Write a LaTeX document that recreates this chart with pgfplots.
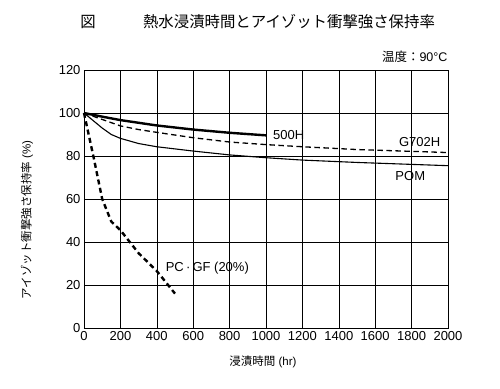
\documentclass[border=0pt]{standalone}
\usepackage{fontspec}
\setmainfont{Liberation Sans}
\newfontfamily\cjk{Noto Sans CJK JP}
\usepackage{pgfplots}
\pgfplotsset{compat=1.18}
\begin{document}
\begin{tikzpicture}
\useasboundingbox (-84pt,-60pt) rectangle (416pt,328pt);
\begin{axis}[
  at={(0pt,0pt)}, anchor=south west,
  scale only axis, width=364pt, height=258pt,
  xmin=0, xmax=2000, ymin=0, ymax=120,
  xtick={0,200,...,2000}, ytick={0,20,...,120},
  grid=major, grid style={black, line width=0.6pt},
  axis line style={line width=0.8pt},
  tick style={draw=none},
  ticklabel style={font=\fontsize{13}{15}\selectfont},
  /pgf/number format/assume math mode=true,
  /pgf/number format/1000 sep={},
  clip=false,
]
% 500H
\addplot[black, line width=2.4pt] coordinates {
 (0,100) (100,98.3) (200,96.7) (400,94.2) (600,92.3) (800,90.8) (1000,89.6)};
% G702H
\addplot[black, line width=1.3pt, dash pattern=on 5.5pt off 3.5pt] coordinates {
 (0,100) (100,97) (200,94) (300,92.3) (400,91) (600,88.5) (800,86.5) (1000,85.3) (1200,84.3) (1500,83) (2000,81.6)};
% POM
\addplot[black, line width=1.1pt] coordinates {
 (0,100) (50,96.5) (100,93) (150,90) (200,88.2) (300,85.8) (400,84.3) (600,82.3) (800,80.5) (1000,79.2) (1200,78.1) (1500,77) (2000,75.5)};
% PC-GF (20%)
\addplot[black, line width=2.4pt, dash pattern=on 5pt off 3.5pt] coordinates {
 (0,100) (50,80.5) (100,60) (150,49.5) (200,45.5) (300,34.8) (400,26.5) (500,16)};
\node[anchor=west, font=\fontsize{13}{15}\selectfont] at (axis cs:1020,89.8) {500H};
\node[anchor=west, font=\fontsize{13}{15}\selectfont] at (axis cs:1712,86.7) {G702H};
\node[anchor=west, font=\fontsize{13}{15}\selectfont] at (axis cs:1692,70.7) {POM};
\node[anchor=west, font=\fontsize{13}{15}\selectfont] at (axis cs:430,27.9) {PC\,·\,GF (20\%)};
\end{axis}
\node at (4pt,306pt) {\cjk\fontsize{15.4}{18}\selectfont 図};
\node at (205pt,306pt) {\cjk\fontsize{15.4}{18}\selectfont 熱水浸漬時間とアイゾット衝撃強さ保持率};
\node[anchor=east] at (367pt,271pt) {\fontsize{12.5}{14}\selectfont{\cjk 温度：}90°C};
\node[rotate=90] at (-57pt,108pt) {\fontsize{11.5}{13}\selectfont{\cjk アイゾット衝撃強さ保持率} (\%)};
\node at (179pt,-34pt) {\fontsize{11.5}{13}\selectfont{\cjk 浸漬時間} (hr)};
\end{tikzpicture}
\end{document}
